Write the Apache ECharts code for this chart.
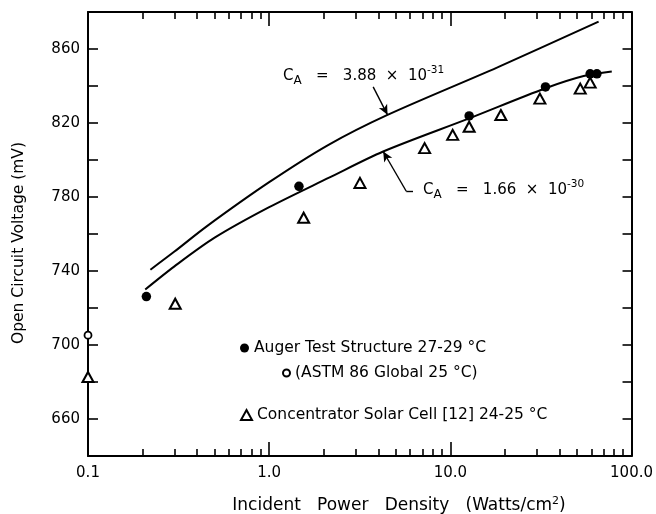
<!DOCTYPE html>
<html>
<head>
<meta charset="utf-8">
<script src="https://cdn.jsdelivr.net/npm/echarts@6/dist/echarts.min.js"></script>
<style>
  html, body { margin: 0; padding: 0; background: #fff; }
  #chart { width: 656px; height: 514px; }
</style>
</head>
<body>
<div id="chart"></div>
<script>
// Incident power density (W/cm^2) and open-circuit voltage (mV)
const augerPower = [0.21, 1.46, 12.7, 33.5, 59.1, 64.4];
const augerVoc   = [726.2, 785.8, 823.8, 839.5, 846.6, 846.6];

const astmPower = [0.1];
const astmVoc   = [705.3];

const cellPower = [0.1, 0.303, 1.55, 3.17, 7.21, 10.3, 12.7, 19.0, 31.2, 52.1, 59.1];
const cellVoc   = [682.7, 722.3, 768.8, 787.6, 806.4, 813.6, 818.0, 824.3, 833.2, 838.6, 841.8];

// Model curves for two Auger coefficients
const curveHighPower = [0.221, 0.30, 0.45, 1.0, 2.126, 4.5, 18.2, 65.8];
const curveHighVoc   = [740.7, 750.5, 764.0, 788.0, 808.2, 824.4, 850.1, 874.8];
const curveLowPower  = [0.207, 0.30, 0.5, 1.0, 2.126, 4.26, 12.7, 33.5, 54.4, 77.8];
const curveLowVoc    = [730.0, 742.5, 758.0, 774.5, 790.3, 804.6, 822.5, 838.8, 845.4, 847.9];

// Axis tick labels
const powerTickLabels = ['0.1', '1.0', '10.0', '100.0'];
const voltageTickLabels = [660, 700, 740, 780, 820, 860];

const FONT = 'DejaVu Sans';
const zip = (xs, ys) => xs.map((x, i) => [x, ys[i]]);

const lineBlack = { color: '#000', width: 2 };
const tickStyle = { color: '#000', width: 1.6 };

function powerAxis(position, showLabels) {
  return {
    type: 'log', logBase: 10, min: 0.1, max: 100, interval: 1,
    position: position,
    axisLine: { show: true, onZero: false, lineStyle: lineBlack },
    axisTick: { show: true, inside: true, length: 14, lineStyle: tickStyle },
    minorTick: { show: true, splitNumber: 9, length: 7, lineStyle: tickStyle },
    splitLine: { show: false },
    minorSplitLine: { show: false },
    axisLabel: {
      show: showLabels, margin: 10, color: '#000', fontFamily: FONT, fontSize: 15,
      formatter: v => powerTickLabels[Math.round(Math.log10(v)) + 1]
    }
  };
}

function voltageAxis(position, showLabels, tickLen) {
  return {
    type: 'value', min: 640, max: 880, interval: 20,
    position: position,
    axisLine: { show: true, onZero: false, lineStyle: lineBlack },
    axisTick: { show: true, inside: true, length: tickLen, lineStyle: tickStyle },
    splitLine: { show: false },
    axisLabel: {
      show: showLabels, margin: 8, color: '#000', fontFamily: FONT, fontSize: 15,
      showMinLabel: true, showMaxLabel: true,
      formatter: v => voltageTickLabels.includes(v) ? String(v) : ''
    }
  };
}

const legendText = { color: '#000', fontFamily: FONT, fontSize: 15.5 };

// Rich-text styles for the C_A annotations (subscript and exponent)
const annotationRich = {
  c: { fontFamily: FONT, fontSize: 15, lineHeight: 22, fill: '#000' },
  s: { fontFamily: FONT, fontSize: 12, lineHeight: 12, verticalAlign: 'bottom', fill: '#000' },
  p: { fontFamily: FONT, fontSize: 10.5, lineHeight: 10, verticalAlign: 'top', fill: '#000' }
};

const option = {
  animation: false,
  backgroundColor: '#fff',
  grid: { left: 88, right: 21, top: 12, bottom: 58, containLabel: false },
  xAxis: [powerAxis('bottom', true), powerAxis('top', false)],
  yAxis: [voltageAxis('left', true, 10), voltageAxis('right', false, 9)],
  legend: [
    { data: ['Auger Test Structure 27-29 °C'], left: 235, top: 335, itemWidth: 9, itemHeight: 9,
      itemGap: 0, selectedMode: false, textStyle: legendText },
    { data: ['(ASTM 86 Global 25 °C)'], left: 277, top: 360, itemWidth: 7, itemHeight: 7,
      itemGap: 0, selectedMode: false, textStyle: legendText },
    { data: ['Concentrator Solar Cell [12] 24-25 °C'], left: 235, top: 402, itemWidth: 11, itemHeight: 10,
      itemGap: 0, selectedMode: false, textStyle: legendText }
  ],
  series: [
    {
      name: 'C_A = 3.88e-31', type: 'line', data: zip(curveHighPower, curveHighVoc),
      smooth: 0.3, showSymbol: false, symbol: 'none', lineStyle: lineBlack, z: 3,
      markLine: {
        silent: true, symbol: ['none', 'arrow'], symbolSize: [7, 10],
        lineStyle: { color: '#000', width: 1.4, type: 'solid' }, label: { show: false },
        data: [[{ coord: [3.75, 839.5] }, { coord: [4.5, 824.4] }]]
      }
    },
    {
      name: 'C_A = 1.66e-30', type: 'line', data: zip(curveLowPower, curveLowVoc),
      smooth: 0.3, showSymbol: false, symbol: 'none', lineStyle: lineBlack, z: 3,
      markLine: {
        silent: true, symbol: ['none', 'arrow'], symbolSize: [7, 10],
        lineStyle: { color: '#000', width: 1.4, type: 'solid' }, label: { show: false },
        data: [
          [{ coord: [5.71, 783.1] }, { coord: [4.26, 804.6] }],
          [{ coord: [6.22, 783.1], symbol: 'none' }, { coord: [5.71, 783.1], symbol: 'none' }]
        ]
      }
    },
    {
      name: 'Auger Test Structure 27-29 °C', type: 'scatter', data: zip(augerPower, augerVoc),
      symbol: 'circle', symbolSize: 9.5, clip: false, z: 5,
      itemStyle: { color: '#000', opacity: 1 }
    },
    {
      name: '(ASTM 86 Global 25 °C)', type: 'scatter', data: zip(astmPower, astmVoc),
      symbol: 'circle', symbolSize: 7, clip: false, z: 5,
      itemStyle: { color: '#fff', borderColor: '#000', borderWidth: 1.8, opacity: 1 }
    },
    {
      name: 'Concentrator Solar Cell [12] 24-25 °C', type: 'scatter', data: zip(cellPower, cellVoc),
      symbol: 'triangle', symbolSize: [11, 10], clip: false, z: 4,
      itemStyle: { color: '#fff', borderColor: '#000', borderWidth: 2, opacity: 1 }
    }
  ],
  graphic: [
    {
      type: 'text', left: 283, top: 65, silent: true,
      style: { text: '{c|C}{s|A}{c|   =   3.88  ×  10}{p|-31}', rich: annotationRich }
    },
    {
      type: 'text', left: 423, top: 179, silent: true,
      style: { text: '{c|C}{s|A}{c|   =   1.66  ×  10}{p|-30}', rich: annotationRich }
    },
    {
      type: 'text', x: 19, y: 243, rotation: Math.PI / 2, silent: true,
      style: {
        text: 'Open Circuit Voltage (mV)', fontFamily: FONT, fontSize: 15.5, fill: '#000',
        align: 'center', verticalAlign: 'middle'
      }
    },
    {
      type: 'text', x: 399, y: 506, silent: true,
      style: {
        text: '{t|Incident   Power   Density   (Watts/cm}{p|2}{t|)}',
        align: 'center', verticalAlign: 'middle',
        rich: {
          t: { fontFamily: FONT, fontSize: 17, lineHeight: 20, fill: '#000' },
          p: { fontFamily: FONT, fontSize: 11, lineHeight: 11, verticalAlign: 'top', fill: '#000' }
        }
      }
    }
  ]
};

const chart = echarts.init(document.getElementById('chart'));
chart.setOption(option);
</script>
</body>
</html>
